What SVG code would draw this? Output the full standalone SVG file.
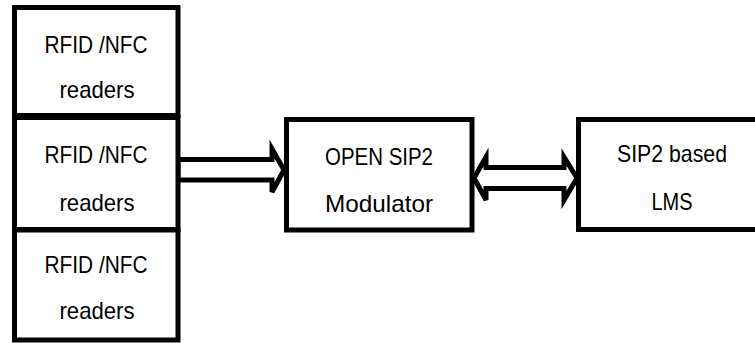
<svg xmlns="http://www.w3.org/2000/svg" width="755" height="343" viewBox="0 0 755 343">
<style>
.box{fill:#fff;stroke:#000;stroke-width:5}
.arr{fill:#fff;stroke:#000;stroke-width:5;stroke-linejoin:miter}
.t{font-family:"Liberation Sans",Arial,sans-serif;font-size:24px;fill:#000;text-anchor:middle}
</style>
<rect width="755" height="343" fill="#fff"/>
<g id="connectors">
<polygon class="arr" points="178,159.5 272,159.5 272,149 284,170 272,192 272,180 178,180"/>
<polygon class="arr" points="474,178 486,157 486,167.5 564,167.5 564,157 577,178 564,200 564,188.5 486,188.5 486,200"/>
</g>
<g id="reader1">
<rect class="box" x="14.5" y="7.5" width="163.5" height="108"/>
<text class="t" x="96" y="53" textLength="103" lengthAdjust="spacingAndGlyphs">RFID /NFC</text>
<text class="t" x="97" y="98" textLength="75" lengthAdjust="spacingAndGlyphs">readers</text>
</g>
<g id="reader2">
<rect class="box" x="14.5" y="117.5" width="163.5" height="112"/>
<text class="t" x="96" y="163" textLength="103" lengthAdjust="spacingAndGlyphs">RFID /NFC</text>
<text class="t" x="97" y="211" textLength="75" lengthAdjust="spacingAndGlyphs">readers</text>
</g>
<g id="reader3">
<rect class="box" x="14.5" y="230" width="163.5" height="110"/>
<text class="t" x="96" y="273" textLength="103" lengthAdjust="spacingAndGlyphs">RFID /NFC</text>
<text class="t" x="97" y="319" textLength="75" lengthAdjust="spacingAndGlyphs">readers</text>
</g>
<g id="modulator">
<rect class="box" x="286.5" y="119.5" width="185.5" height="110.5"/>
<text class="t" x="379" y="165" textLength="108" lengthAdjust="spacingAndGlyphs">OPEN SIP2</text>
<text class="t" x="379" y="212" textLength="108" lengthAdjust="spacingAndGlyphs">Modulator</text>
</g>
<g id="lms">
<rect class="box" x="578.5" y="119.5" width="190" height="110"/>
<text class="t" x="672" y="162" textLength="110" lengthAdjust="spacingAndGlyphs">SIP2 based</text>
<text class="t" x="672" y="210" textLength="41" lengthAdjust="spacingAndGlyphs">LMS</text>
</g>
</svg>
